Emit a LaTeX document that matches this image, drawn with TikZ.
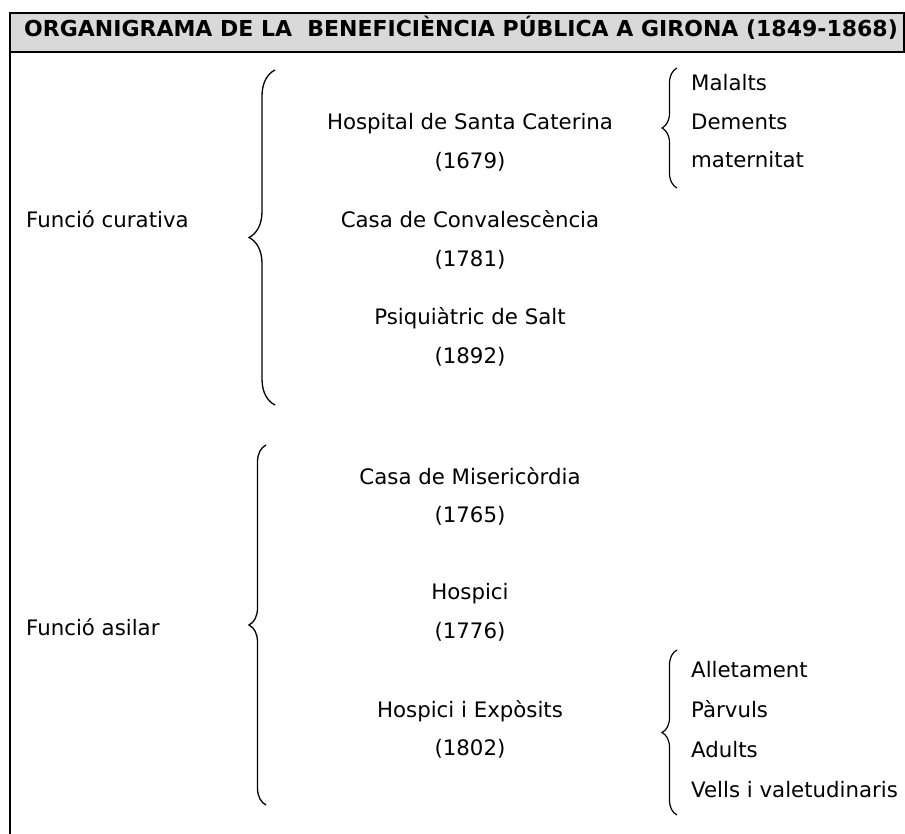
\documentclass[tikz,border=0pt]{standalone}
\usepackage{fontspec}
\setmainfont{DejaVu Sans}
\usetikzlibrary{decorations.pathreplacing}
\definecolor{titlegray}{HTML}{D9D9D9}
\tikzset{
  body/.style={inner sep=0pt, font=\fontsize{21.3}{25}\selectfont},
  item/.style={body, anchor=mid},
  leftlab/.style={body, anchor=mid west},
  sublab/.style={body, anchor=mid west},
  bigbrace/.style={decorate, decoration={brace, amplitude=26pt}, line width=1.3pt},
  narrowbrace/.style={decorate, decoration={brace, amplitude=17pt}, line width=1.3pt},
  smallbrace/.style={decorate, decoration={brace, amplitude=15pt}, line width=1.2pt},
  frame/.style={line width=2.5pt}
}
\begin{document}
\begin{tikzpicture}[x=1pt, y=-1pt]
\useasboundingbox (0,0) rectangle (905,834);
% title box
\filldraw[fill=titlegray, frame] (10,13) rectangle (904,52);
\draw[frame] (10,52) -- (10,836);
\node[inner sep=0pt, anchor=mid, font=\fontsize{22}{26}\selectfont\bfseries] (title) at (461,34) {ORGANIGRAMA DE LA \ BENEFICIÈNCIA PÚBLICA A GIRONA (1849-1868)};

% section 1
\node[leftlab] (cur) at (26,225) {Funció curativa};
\draw[bigbrace] (275,405) -- (275,70);
\node[item] (hsc) at (470,127) {Hospital de Santa Caterina};
\node[item] (hscy) at (470,166) {(1679)};
\node[item] (cc) at (470,225) {Casa de Convalescència};
\node[item] (ccy) at (470,264) {(1781)};
\node[item] (ps) at (470,322) {Psiquiàtric de Salt};
\node[item] (psy) at (470,361) {(1892)};
\draw[smallbrace] (677,188) -- (677,68);
\node[sublab] (m1) at (691,88) {Malalts};
\node[sublab] (m2) at (691,127) {Dements};
\node[sublab] (m3) at (691,165) {maternitat};

% section 2
\node[leftlab] (asi) at (26,633) {Funció asilar};
\draw[narrowbrace] (266,805) -- (266,445);
\node[item] (cm) at (470,482) {Casa de Misericòrdia};
\node[item] (cmy) at (470,520) {(1765)};
\node[item] (ho) at (470,597) {Hospici};
\node[item] (hoy) at (470,636) {(1776)};
\node[item] (he) at (470,715) {Hospici i Expòsits};
\node[item] (hey) at (470,753) {(1802)};
\draw[smallbrace] (677,815) -- (677,650);
\node[sublab] (a1) at (691,675) {Alletament};
\node[sublab] (a2) at (691,715) {Pàrvuls};
\node[sublab] (a3) at (691,755) {Adults};
\node[sublab] (a4) at (691,795) {Vells i valetudinaris};
\end{tikzpicture}
\end{document}
